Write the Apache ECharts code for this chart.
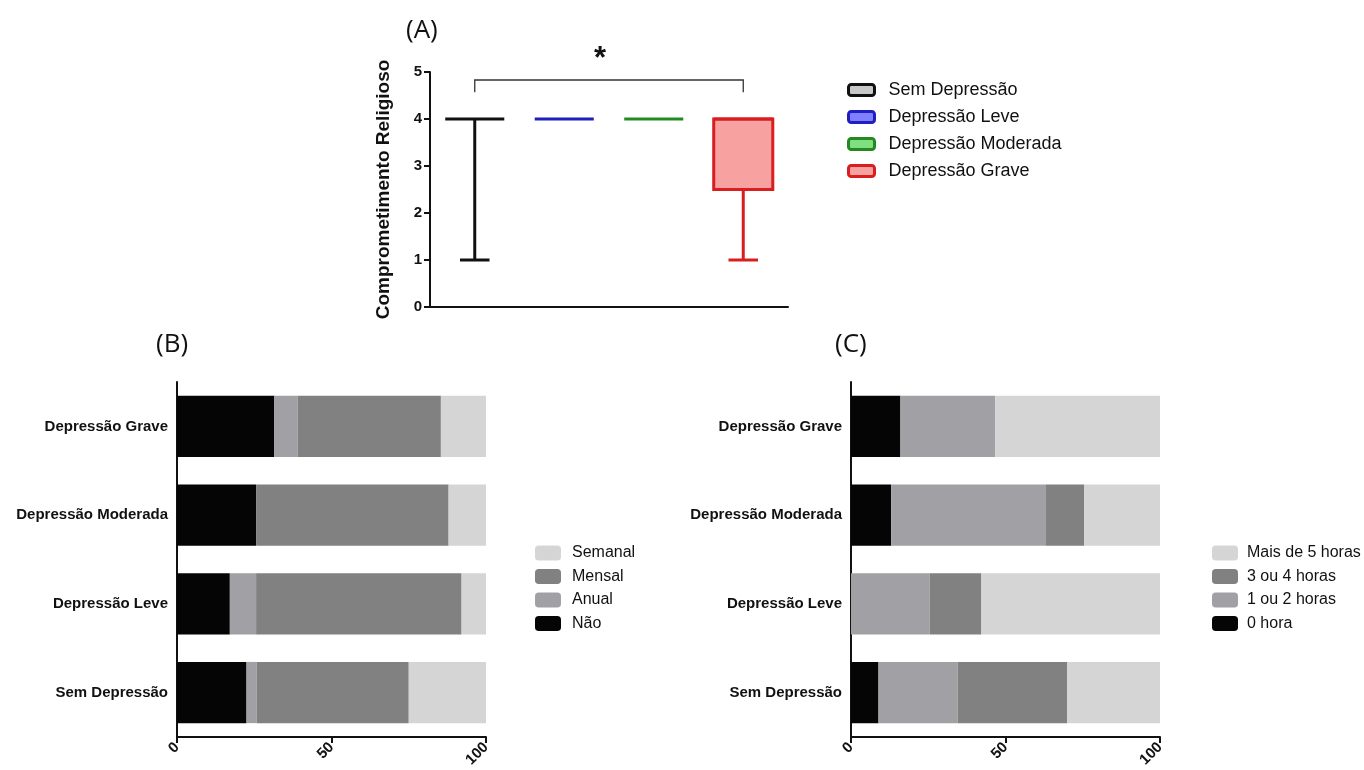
<!DOCTYPE html>
<html>
<head>
<meta charset="utf-8">
<script src="https://cdn.jsdelivr.net/npm/echarts@6/dist/echarts.min.js"></script>
<style>
html,body{margin:0;padding:0;background:#fff;}
#chart{width:1364px;height:770px;}
</style>
</head>
<body>
<div id="chart"></div>
<script>
// ---------- Panel A data (box plot: min, Q1, median, Q3, max) ----------
const groups = ['Sem Depressão', 'Depressão Leve', 'Depressão Moderada', 'Depressão Grave'];
const boxMin    = [1, 4, 4, 1];
const boxQ1     = [4, 4, 4, 2.5];
const boxMedian = [4, 4, 4, 4];
const boxQ3     = [4, 4, 4, 4];
const boxMax    = [4, 4, 4, 4];
const yTicksA = [0, 1, 2, 3, 4, 5];
const sigPair = [0, 3];          // bracket between groups
const sigLevels = [4.57, 4.83];  // bracket foot / top (data units)
const sigLabel = '*';

// ---------- Panel B data (%) ----------
const barCats = ['Sem Depressão', 'Depressão Leve', 'Depressão Moderada', 'Depressão Grave'];
const bNao     = [22.5, 17.1, 25.6, 31.5];
const bAnual   = [3.3, 8.5, 0, 7.5];
const bMensal  = [49.2, 66.5, 62.3, 46.4];
const bSemanal = [25.0, 7.9, 12.1, 14.6];

// ---------- Panel C data (%) ----------
const c0h    = [8.9, 0, 13.0, 16.0];
const c12h   = [25.6, 25.5, 49.9, 30.7];
const c34h   = [35.5, 16.7, 12.6, 0];
const cMais5 = [30.0, 57.8, 24.5, 53.3];
const xTicksBC = [0, 50, 100];

const FONT = '"Liberation Sans", Arial, sans-serif';

const boxStyles = [
  {stroke: '#111111', fill: '#c8c8c8'},
  {stroke: '#1f1fc0', fill: '#8080ff'},
  {stroke: '#238a23', fill: '#80e080'},
  {stroke: '#d81e1e', fill: '#f7a1a1'}
];

function makeBoxRender(style) {
  return function (params, api) {
    const x = api.value(0);
    const mn = api.value(1), q1 = api.value(2), md = api.value(3), q3 = api.value(4), mx = api.value(5);
    const band = api.size([1, 0])[0];
    const w = band * 0.66, half = w / 2, capHalf = w / 4;
    const cx = api.coord([x, md])[0];
    const y = v => api.coord([x, v])[1];
    const lw = 3;
    const children = [];
    if (q3 > q1) {
      children.push({type: 'rect', shape: {x: cx - half, y: y(q3), width: w, height: y(q1) - y(q3)},
        style: {fill: style.fill, stroke: style.stroke, lineWidth: lw}});
    }
    children.push({type: 'line', shape: {x1: cx - half, y1: y(md), x2: cx + half, y2: y(md)},
      style: {stroke: style.stroke, lineWidth: lw}});
    if (mn < q1) {
      children.push({type: 'line', shape: {x1: cx, y1: y(q1), x2: cx, y2: y(mn)}, style: {stroke: style.stroke, lineWidth: lw}});
      children.push({type: 'line', shape: {x1: cx - capHalf, y1: y(mn), x2: cx + capHalf, y2: y(mn)}, style: {stroke: style.stroke, lineWidth: lw}});
    }
    if (mx > q3) {
      children.push({type: 'line', shape: {x1: cx, y1: y(q3), x2: cx, y2: y(mx)}, style: {stroke: style.stroke, lineWidth: lw}});
      children.push({type: 'line', shape: {x1: cx - capHalf, y1: y(mx), x2: cx + capHalf, y2: y(mx)}, style: {stroke: style.stroke, lineWidth: lw}});
    }
    return {type: 'group', children: children};
  };
}

const boxSeries = groups.map((g, i) => ({
  name: g,
  type: 'custom',
  xAxisIndex: 0, yAxisIndex: 0,
  itemStyle: {color: boxStyles[i].fill, borderColor: boxStyles[i].stroke, borderWidth: 3},
  encode: {x: 0, y: [1, 2, 3, 4, 5]},
  data: [[i, boxMin[i], boxQ1[i], boxMedian[i], boxQ3[i], boxMax[i]]],
  renderItem: makeBoxRender(boxStyles[i]),
  z: 3
}));

const bracketSeries = {
  name: 'sig',
  type: 'custom',
  xAxisIndex: 0, yAxisIndex: 0,
  encode: {x: [0, 1], y: [2, 3]},
  data: [[sigPair[0], sigPair[1], sigLevels[0], sigLevels[1]]],
  renderItem: function (params, api) {
    const p1 = api.coord([api.value(0), api.value(2)]);
    const p2 = api.coord([api.value(0), api.value(3)]);
    const p3 = api.coord([api.value(1), api.value(3)]);
    const p4 = api.coord([api.value(1), api.value(2)]);
    return {type: 'group', children: [
      {type: 'polyline', shape: {points: [p1, p2, p3, p4]}, style: {stroke: '#333', lineWidth: 1.3, fill: null}},
      {type: 'text', style: {text: sigLabel, x: (p2[0] + p3[0]) / 2 - 9, y: p2[1] - 21,
        font: 'bold 31px ' + FONT, fill: '#111', align: 'center', verticalAlign: 'middle'}}
    ]};
  },
  silent: true
};

function barSeries(name, data, color, gridIdx) {
  return {
    name: name, type: 'bar', stack: 'g' + gridIdx,
    xAxisIndex: gridIdx, yAxisIndex: gridIdx,
    data: data, barWidth: '69%',
    itemStyle: {color: color},
    emphasis: {disabled: true}
  };
}

const colBlack = '#050505', colMid = '#a1a1a5', colDark = '#818181', colLight = '#d5d5d5';

const catAxisStyle = {
  axisLine: {lineStyle: {color: '#111', width: 2}},
  axisTick: {alignWithLabel: true, length: 5, lineStyle: {color: '#111', width: 2}},
  axisLabel: {color: '#111', fontFamily: FONT, fontWeight: 'bold', fontSize: 15, margin: 9},
  splitLine: {show: false}
};

function valueXAxis(gridIdx) {
  return {
    type: 'value', gridIndex: gridIdx, min: xTicksBC[0], max: xTicksBC[xTicksBC.length - 1], interval: 50,
    axisLine: {show: true, lineStyle: {color: '#111', width: 2}},
    axisTick: {show: true, length: 6, lineStyle: {color: '#111', width: 2}},
    axisLabel: {color: '#111', fontFamily: FONT, fontWeight: 'bold', fontSize: 15, rotate: 45, margin: 8},
    splitLine: {show: false}
  };
}

const legendText = (size, pad) => ({color: '#111', fontFamily: FONT, fontSize: size, padding: [0, 0, 0, pad]});

const option = {
  backgroundColor: '#fff',
  animation: false,
  title: [
    {text: '(A)', left: 401, top: 13, textStyle: {fontFamily: '"Open Sans", sans-serif', fontWeight: 'normal', fontSize: 26, color: '#111'}},
    {text: '(B)', left: 151, top: 327, textStyle: {fontFamily: '"Open Sans", sans-serif', fontWeight: 'normal', fontSize: 26, color: '#111'}},
    {text: '(C)', left: 830, top: 327, textStyle: {fontFamily: '"Open Sans", sans-serif', fontWeight: 'normal', fontSize: 26, color: '#111'}}
  ],
  grid: [
    {left: 430, top: 72, width: 358, height: 235},
    {left: 177, top: 382, width: 309, height: 358},
    {left: 851, top: 382, width: 309, height: 358}
  ],
  xAxis: [
    {type: 'category', gridIndex: 0, data: groups, boundaryGap: true,
     axisLine: {lineStyle: {color: '#111', width: 2}}, axisTick: {show: false}, axisLabel: {show: false}},
    valueXAxis(1),
    valueXAxis(2)
  ],
  yAxis: [
    {type: 'value', gridIndex: 0, min: yTicksA[0], max: yTicksA[yTicksA.length - 1], interval: 1,
     name: 'Comprometimento Religioso', nameLocation: 'middle', nameRotate: 90, nameGap: 37,
     nameTextStyle: {color: '#111', fontFamily: FONT, fontWeight: 'bold', fontSize: 19},
     axisLine: {show: true, lineStyle: {color: '#111', width: 2}},
     axisTick: {show: true, length: 6, lineStyle: {color: '#111', width: 2}},
     axisLabel: {color: '#111', fontFamily: FONT, fontWeight: 'bold', fontSize: 15, margin: 8},
     splitLine: {show: false}},
    Object.assign({type: 'category', gridIndex: 1, data: barCats}, catAxisStyle),
    Object.assign({type: 'category', gridIndex: 2, data: barCats}, catAxisStyle)
  ],
  legend: [
    {left: 842, top: 76, orient: 'vertical', itemWidth: 26, itemHeight: 11, itemGap: 9,
     data: groups.map((g, i) => ({name: g, icon: 'roundRect',
       itemStyle: {color: boxStyles[i].fill, borderColor: boxStyles[i].stroke, borderWidth: 3}})),
     textStyle: legendText(18, 9), selectedMode: false},
    {left: 530, top: 540, orient: 'vertical', itemWidth: 26, itemHeight: 15, itemGap: 7.5,
     data: ['Semanal', 'Mensal', 'Anual', 'Não'].map(n => ({name: n, icon: 'roundRect'})),
     textStyle: legendText(16, 6), selectedMode: false},
    {left: 1207, top: 540, orient: 'vertical', itemWidth: 26, itemHeight: 15, itemGap: 7.5,
     data: ['Mais de 5 horas', '3 ou 4 horas', '1 ou 2 horas', '0 hora'].map(n => ({name: n, icon: 'roundRect'})),
     textStyle: legendText(16, 4), selectedMode: false}
  ],
  series: [].concat(boxSeries, [bracketSeries,
    barSeries('Não', bNao, colBlack, 1),
    barSeries('Anual', bAnual, colMid, 1),
    barSeries('Mensal', bMensal, colDark, 1),
    barSeries('Semanal', bSemanal, colLight, 1),
    barSeries('0 hora', c0h, colBlack, 2),
    barSeries('1 ou 2 horas', c12h, colMid, 2),
    barSeries('3 ou 4 horas', c34h, colDark, 2),
    barSeries('Mais de 5 horas', cMais5, colLight, 2)
  ])
};

const chart = echarts.init(document.getElementById('chart'), null, {renderer: 'canvas'});
chart.setOption(option);
</script>
</body>
</html>
